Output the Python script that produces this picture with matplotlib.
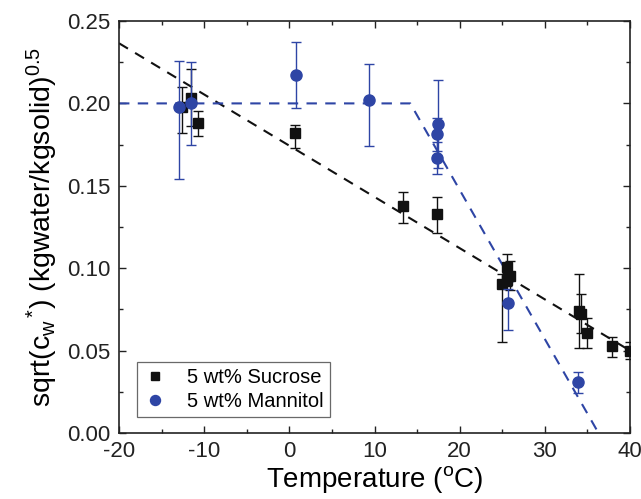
import matplotlib
matplotlib.use("Agg")
import matplotlib.pyplot as plt
from matplotlib.ticker import MultipleLocator
import numpy as np

plt.rcParams['font.family'] = ['Liberation Sans', 'DejaVu Sans']
plt.rcParams['mathtext.fontset'] = 'custom'
plt.rcParams['mathtext.rm'] = 'Liberation Sans'
plt.rcParams['mathtext.it'] = 'Liberation Sans:italic'
plt.rcParams['mathtext.bf'] = 'Liberation Sans:bold'
plt.rcParams['axes.unicode_minus'] = False

# Sucrose data
suc_x = [-12.6, -11.6, -10.7, 0.7, 13.4, 17.3, 25.0, 25.5, 25.6, 25.95, 34.0, 34.2, 35.0, 37.9, 40.0]
suc_y = [0.198, 0.203, 0.188, 0.182, 0.138, 0.133, 0.0905, 0.093, 0.101, 0.0955, 0.074, 0.0725, 0.0605, 0.053, 0.050]
suc_lo = [0.016, 0.017, 0.008, 0.009, 0.0105, 0.0117, 0.035, 0.004, 0.0077, 0.009, 0.0225, 0.012, 0.009, 0.007, 0.005]
suc_hi = [0.012, 0.018, 0.0075, 0.005, 0.0085, 0.0100, 0.006, 0.004, 0.0077, 0.009, 0.0225, 0.012, 0.009, 0.005, 0.005]

# Mannitol data
man_x = [-12.9, -11.5, 0.75, 9.3, 17.3, 17.35, 17.4, 25.65, 33.9]
man_y = [0.198, 0.200, 0.2174, 0.2021, 0.1669, 0.1814, 0.1875, 0.0791, 0.0308]
man_lo = [0.044, 0.025, 0.020, 0.028, 0.0095, 0.010, 0.027, 0.0166, 0.0065]
man_hi = [0.028, 0.025, 0.020, 0.022, 0.0095, 0.010, 0.027, 0.008, 0.006]

# Fit lines
suc_fit_x = [-20, 40]
suc_fit_y = [0.2365, 0.050]
man_fit_x = [-20, 14.2, 36.3]
man_fit_y = [0.200, 0.200, 0.0]

black = '#111111'
blue = '#2E45A5'

fig = plt.figure(figsize=(6.41, 4.99), dpi=100)
ax = fig.add_axes([119/641, 66/499, 511/641, 412/499])

ax.plot(suc_fit_x, suc_fit_y, color=black, lw=1.5, dashes=(5, 4), zorder=2)
ax.plot(man_fit_x, man_fit_y, color=blue, lw=1.5, dashes=(5, 4), zorder=2)

ax.errorbar(suc_x, suc_y, yerr=[suc_lo, suc_hi], fmt='s', color=black, ms=7,
            ecolor=black, elinewidth=1.0, capsize=3.5, capthick=1.0,
            label='5 wt% Sucrose', zorder=3)
ax.errorbar(man_x, man_y, yerr=[man_lo, man_hi], fmt='o', color=blue, ms=8,
            ecolor=blue, elinewidth=1.0, capsize=3.5, capthick=1.0,
            label='5 wt% Mannitol', zorder=4)

ax.set_xlim(-20, 40)
ax.set_ylim(0.0, 0.25)
ax.xaxis.set_major_locator(MultipleLocator(10))
ax.xaxis.set_minor_locator(MultipleLocator(5))
ax.yaxis.set_major_locator(MultipleLocator(0.05))
ax.yaxis.set_minor_locator(MultipleLocator(0.025))
ax.yaxis.set_major_formatter(matplotlib.ticker.FormatStrFormatter('%.2f'))
ax.tick_params(which='both', direction='in', top=True, right=True, width=1.0,
               labelsize=16, colors='#222222')
ax.tick_params(which='major', length=5)
ax.tick_params(which='minor', length=3)
ax.tick_params(axis='x', which='major', pad=6)
ax.tick_params(axis='y', which='major', pad=6)
for s in ax.spines.values():
    s.set_linewidth(1.2)
    s.set_color('#222222')

ax.set_xlabel(r'Temperature ($^{\mathrm{o}}$C)', fontsize=20, labelpad=1)
ax.set_ylabel(r'sqrt(c$_{\mathrm{w}}$$^{\,\mathrm{*}}$) (kgwater/kgsolid)$^{0.5}$', fontsize=20.5, labelpad=5)

handles, labels = ax.get_legend_handles_labels()
handles = [h[0] for h in handles]
leg = ax.legend(handles, labels, loc='lower left', bbox_to_anchor=(0.035, 0.039),
                borderaxespad=0, fancybox=False, fontsize=14.5, handlelength=1.2,
                handletextpad=1.0, borderpad=0.3, labelspacing=0.25, markerscale=0.9)
leg.get_frame().set_edgecolor('#444444')
leg.get_frame().set_linewidth(0.9)

fig.savefig('out.png', dpi=100)
